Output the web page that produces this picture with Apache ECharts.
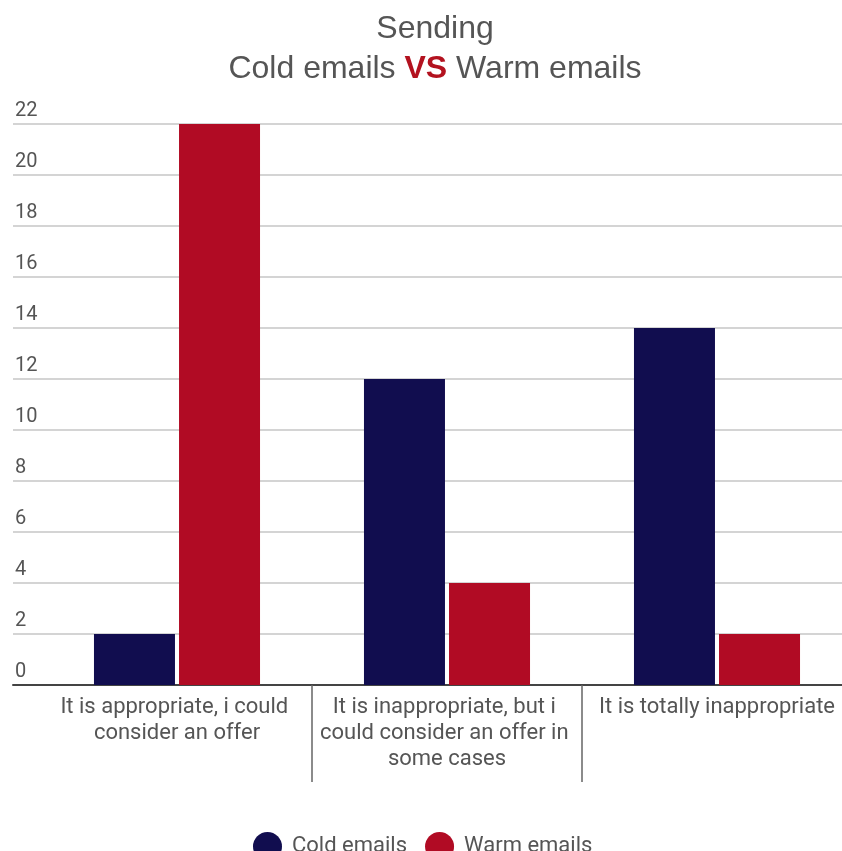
<!DOCTYPE html>
<html>
<head>
<meta charset="utf-8">
<script src="https://cdn.jsdelivr.net/npm/echarts@6/dist/echarts.min.js"></script>
<style>
html,body{margin:0;padding:0;background:#fff;overflow:hidden;}
#chart{width:852px;height:851px;}
</style>
</head>
<body>
<div id="chart"></div>
<script>
const categories = [
  "It is appropriate, i could consider an offer",
  "It is inappropriate, but i could consider an offer in some cases",
  "It is totally inappropriate"
];
const coldEmails = [2, 12, 14];
const warmEmails = [22, 4, 2];
const yTicks = { min: 0, max: 22, interval: 2 };
const seriesNames = ["Cold emails", "Warm emails"];

const chart = echarts.init(document.getElementById('chart'), null, {renderer: 'canvas'});
const textColor = '#555555';
const option = {
  backgroundColor: '#ffffff',
  animation: false,
  title: {
    text: 'Sending\nCold emails {vs|VS} Warm emails',
    left: 430,
    top: 4,
    textAlign: 'center',
    textStyle: {
      fontFamily: 'Liberation Sans, Arial, sans-serif',
      fontSize: 32,
      fontWeight: 'normal',
      color: textColor,
      lineHeight: 40,
      rich: {
        vs: {
          fontFamily: 'Liberation Sans, Arial, sans-serif',
          fontSize: 32,
          fontWeight: 'bold',
          color: '#b3121f',
          lineHeight: 40
        }
      }
    }
  },
  legend: {
    data: seriesNames,
    left: 248,
    top: 827,
    icon: 'circle',
    itemWidth: 29,
    itemHeight: 29,
    itemGap: 18,
    textStyle: { fontFamily: 'Roboto, sans-serif', fontSize: 22, color: textColor, padding: [0,0,0,5] }
  },
  grid: [
    { left: 13, right: 10, top: 124, bottom: 166 },
    { left: 42, right: 0, top: 124, bottom: 166 }
  ],
  xAxis: [
    {
      gridIndex: 0, type: 'value', min: 0, max: 1,
      axisLine: { show: true, lineStyle: { color: '#444', width: 2 } },
      axisTick: { show: false }, axisLabel: { show: false }, splitLine: { show: false }
    },
    {
      gridIndex: 1, type: 'category', data: categories,
      axisLine: { show: false },
      axisTick: {
        show: true, length: 97, inside: false,
        interval: function (index) { return index > 0; },
        lineStyle: { color: '#666', width: 1.5 }
      },
      axisLabel: {
        interval: 0, margin: 9,
        fontFamily: 'Roboto, sans-serif', fontSize: 22, color: textColor,
        lineHeight: 26, width: 262, overflow: 'break', align: 'center'
      },
      splitLine: { show: false }
    }
  ],
  yAxis: [
    {
      gridIndex: 0, type: 'value', min: yTicks.min, max: yTicks.max, interval: yTicks.interval,
      axisLine: { show: false }, axisTick: { show: false },
      axisLabel: {
        inside: true, margin: 2, align: 'left', verticalAlign: 'bottom',
        padding: [0, 0, 3, 0],
        fontFamily: 'Roboto, sans-serif', fontSize: 20, color: textColor
      },
      splitLine: { show: true, lineStyle: { color: '#c6c6c6', width: 1.5 } }
    },
    {
      gridIndex: 1, type: 'value', min: yTicks.min, max: yTicks.max, interval: yTicks.interval,
      show: false, splitLine: { show: false }
    }
  ],
  series: [
    {
      name: seriesNames[0], type: 'bar', xAxisIndex: 1, yAxisIndex: 1,
      data: coldEmails, barWidth: 81, barGap: '5%',
      itemStyle: { color: '#110d4f' }
    },
    {
      name: seriesNames[1], type: 'bar', xAxisIndex: 1, yAxisIndex: 1,
      data: warmEmails, barWidth: 81, barGap: '5%',
      itemStyle: { color: '#b10b24' }
    }
  ]
};
chart.setOption(option);
</script>
</body>
</html>
